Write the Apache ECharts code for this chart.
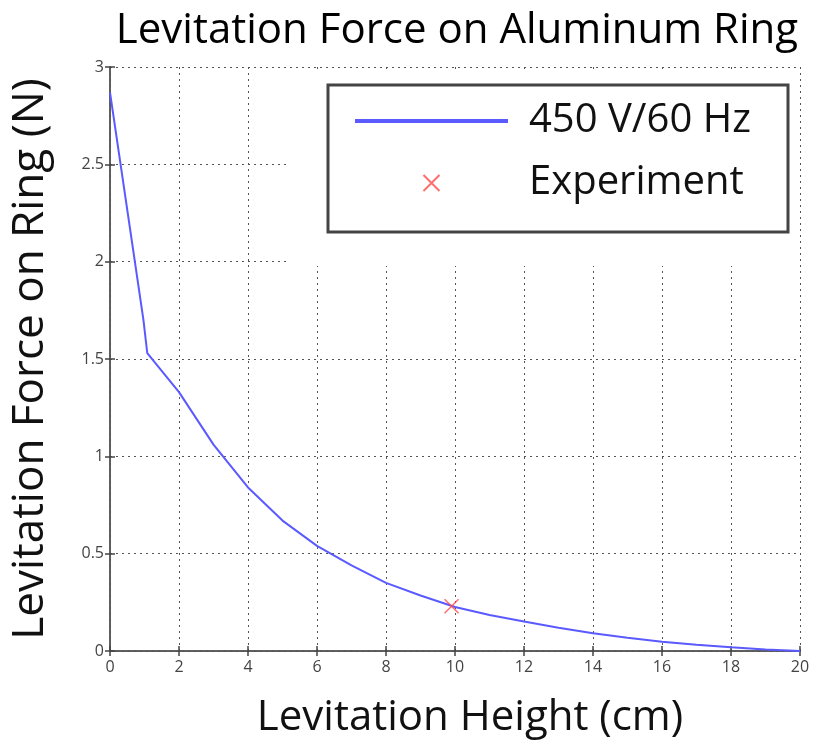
<!DOCTYPE html>
<html>
<head>
<meta charset="utf-8">
<title>Levitation Force on Aluminum Ring</title>
<script src="https://cdn.jsdelivr.net/npm/echarts@6/dist/echarts.min.js"></script>
<style>
  html, body { margin: 0; padding: 0; background: #fff; }
  #chart { width: 816px; height: 746px; }
</style>
</head>
<body>
<div id="chart"></div>
<script>
// levitation height (cm) and computed force (N)
const heightCm = [0, 0.97, 1.08, 2, 3, 4, 5, 6, 7, 8, 9, 10, 11, 12, 13, 14, 15, 16, 17, 18, 19, 20];
const forceN = [2.87, 1.70, 1.53, 1.33, 1.06, 0.84, 0.67, 0.54, 0.44, 0.35, 0.285, 0.226, 0.185, 0.151, 0.12, 0.091, 0.068, 0.048, 0.032, 0.019, 0.008, 0.0];

// single measured point
const expHeight = [9.9];
const expForce = [0.23];

const curveName = '450 V/60 Hz';
const expName = 'Experiment';

const FONT = "'Open Sans', 'Liberation Sans', sans-serif";

const chart = echarts.init(document.getElementById('chart'));

const sideAxis = {
    min: 0,
    axisLine: { show: true, lineStyle: { color: '#555', width: 1.5 } },
    axisTick: { show: true, inside: true, length: 5, lineStyle: { color: '#444', width: 1.5 } },
    axisLabel: { show: false },
    splitLine: { show: false }
};

const option = {
    backgroundColor: '#fff',
    animation: false,
    title: {
        text: 'Levitation Force on Aluminum Ring',
        left: 452,
        textAlign: 'center',
        top: 5,
        textStyle: { fontFamily: FONT, fontSize: 42, fontWeight: 'normal', color: '#000' }
    },
    grid: { left: 110, right: 16, top: 67, bottom: 95 },
    legend: {
        orient: 'vertical',
        left: 355,
        top: 99,
        padding: 0,
        itemWidth: 153,
        itemHeight: 16,
        itemGap: 18,
        z: 10,
        textStyle: {
            fontFamily: FONT, fontSize: 40, lineHeight: 44, color: '#111',
            padding: [0, 0, 0, 16]
        },
        data: [
            // plain thick bar for the curve entry (no marker dot)
            { name: curveName, icon: 'path://M0,0h153v4H0z', itemStyle: { color: '#5a5aff' } },
            { name: expName }
        ]
    },
    xAxis: [
        {
            type: 'value',
            min: 0, max: 20, interval: 2,
            name: 'Levitation Height (cm)',
            nameLocation: 'middle',
            nameGap: 46,
            nameTextStyle: { fontFamily: FONT, fontSize: 42, color: '#111', padding: [0, 0, 0, 30] },
            axisLine: { show: true, onZero: false, lineStyle: { color: '#555', width: 1.5 } },
            axisTick: { show: true, inside: true, length: 5, lineStyle: { color: '#444', width: 1.5 } },
            axisLabel: { fontFamily: FONT, fontSize: 16, color: '#444', margin: 8 },
            splitLine: { show: true, lineStyle: { color: '#555', type: [2, 4], width: 1 } }
        },
        Object.assign({}, sideAxis, { type: 'value', position: 'top', max: 20, interval: 2 })
    ],
    yAxis: [
        {
            type: 'value',
            min: 0, max: 3, interval: 0.5,
            name: 'Levitation Force on Ring (N)',
            nameLocation: 'middle',
            nameGap: 58,
            nameTextStyle: { fontFamily: FONT, fontSize: 44, color: '#111' },
            axisLine: { show: true, onZero: false, lineStyle: { color: '#555', width: 1.5 } },
            axisTick: { show: true, inside: true, length: 5, lineStyle: { color: '#444', width: 1.5 } },
            axisLabel: { fontFamily: FONT, fontSize: 16, color: '#444', margin: 6 },
            splitLine: { show: true, lineStyle: { color: '#555', type: [2, 4], width: 1 } }
        },
        Object.assign({}, sideAxis, { type: 'value', position: 'right', max: 3, interval: 0.5 })
    ],
    graphic: [
        // blank patch behind the legend box (grid lines hidden there)
        {
            type: 'rect', z: 5,
            shape: { x: 288, y: 69, width: 508, height: 197 },
            style: { fill: '#fff' }
        },
        // legend frame
        {
            type: 'rect', z: 6,
            shape: { x: 328, y: 85, width: 460, height: 147 },
            style: { fill: '#fff', stroke: '#444', lineWidth: 3 }
        }
    ],
    series: [
        {
            name: curveName,
            type: 'line',
            showSymbol: false,
            symbol: 'none',
            lineStyle: { color: '#5a5aff', width: 2 },
            itemStyle: { color: '#5a5aff' },
            data: heightCm.map((h, i) => [h, forceN[i]]),
            z: 3
        },
        {
            name: expName,
            type: 'scatter',
            symbol: 'path://M0,0L10,10M10,0L0,10',
            symbolSize: 14,
            itemStyle: { color: 'none', borderColor: '#ff4a4a', borderWidth: 1.5 },
            data: expHeight.map((h, i) => [h, expForce[i]]),
            z: 4
        }
    ]
};

chart.setOption(option);
</script>
</body>
</html>
